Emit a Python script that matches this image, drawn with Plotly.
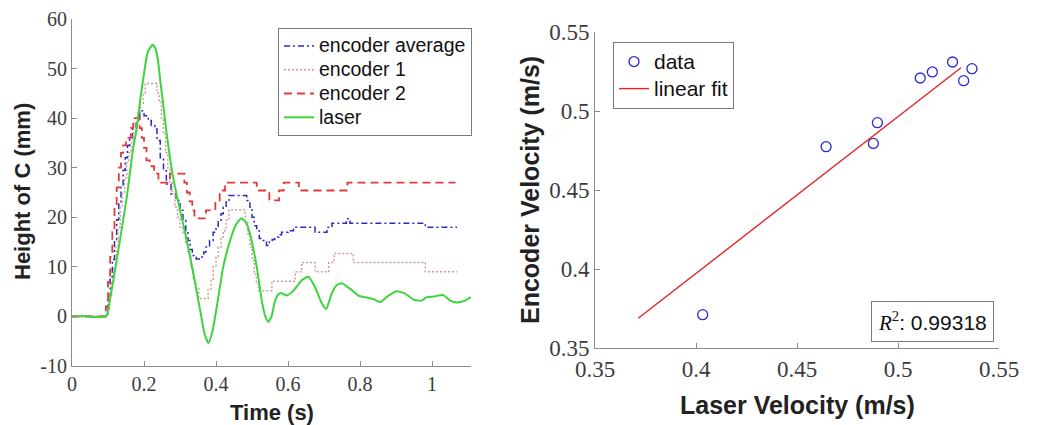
import plotly.graph_objects as go

# ---------------- left panel data ----------------
t_laser = [0, 0.03, 0.06, 0.09, 0.097, 0.105, 0.124, 0.152, 0.170, 0.180, 0.189, 0.198, 0.207, 0.212,
           0.224, 0.232, 0.239, 0.246, 0.253, 0.263, 0.281, 0.300, 0.319, 0.337, 0.356, 0.368, 0.379,
           0.390, 0.402, 0.420, 0.439, 0.455, 0.471, 0.484, 0.494, 0.513, 0.527, 0.537, 0.545, 0.554,
           0.564, 0.574, 0.582, 0.596, 0.615, 0.638, 0.656, 0.675, 0.694, 0.706, 0.721, 0.735, 0.749,
           0.772, 0.795, 0.819, 0.837, 0.856, 0.879, 0.902, 0.925, 0.948, 0.971, 0.985, 1.004, 1.031,
           1.050, 1.069, 1.092, 1.107]
y_laser = [0, 0.1, -0.1, 0, 0.2, 3.2, 11.3, 24, 34, 38, 43.5, 48, 52.3, 53.6,
           54.8, 54, 51.5, 47, 43, 36.8, 28, 21.4, 15.3, 8.6, 1.2, -3.5, -5.4,
           -3, 1.9, 10, 15.3, 18.5, 19.8, 18.8, 16.7, 10, 3.2, 0, -1.1, 0,
           3.2, 4.5, 4.7, 4.2, 5.2, 7.3, 8, 5.9, 2.6, 1.5, 4.6, 6.3, 6.7,
           5.6, 4.2, 3.8, 3.5, 2.9, 4.2, 5.1, 4.6, 3.4, 3.2, 3.9, 4.0, 4.3,
           3.2, 2.8, 3.2, 3.9]

t_enc2 = [0, 0.094, 0.100, 0.106, 0.112, 0.118, 0.124, 0.130, 0.136, 0.142, 0.150, 0.163, 0.170,
          0.188, 0.194, 0.200, 0.207, 0.216, 0.228, 0.240, 0.272, 0.312, 0.319, 0.327, 0.334, 0.340,
          0.372, 0.398, 0.410, 0.425, 0.513, 0.548, 0.575, 0.588, 0.630, 0.765, 1.065]
y_enc2 = [0, 2, 7, 12, 17, 22, 26, 30, 33, 34.5, 36, 38, 40,
          38, 36, 34, 31.5, 30.3, 28.8, 27, 28.8, 27, 25, 23.2, 21.4, 19.8,
          21.4, 23.4, 25.4, 27, 25.4, 23.4, 25.4, 27, 25.4, 27, 27]

t_enc1 = [0, 0.098, 0.104, 0.110, 0.116, 0.122, 0.128, 0.134, 0.140, 0.146, 0.152, 0.158, 0.164,
          0.170, 0.176, 0.182, 0.190, 0.198, 0.203, 0.236, 0.242, 0.248, 0.254, 0.260, 0.266, 0.272,
          0.278, 0.286, 0.293, 0.300, 0.308, 0.315, 0.322, 0.330, 0.337, 0.344, 0.352, 0.378, 0.386,
          0.392, 0.400, 0.406, 0.414, 0.420, 0.428, 0.436, 0.481, 0.488, 0.494, 0.500, 0.506, 0.512,
          0.518, 0.555, 0.620, 0.638, 0.675, 0.713, 0.728, 0.781, 0.981, 1.069]
y_enc1 = [0, 1, 4, 7, 10, 14, 18, 22, 25, 28, 31, 33, 35,
          37, 39, 41, 43, 45, 47, 45, 43.5, 40, 36.8, 33, 30, 27,
          24.7, 22, 20, 18, 16.7, 14.5, 12.6, 9.9, 7.3, 5.9, 3.6, 5.5, 7.5,
          10, 12, 14, 16, 17.3, 19.4, 21.5, 19, 16.7, 14, 11.3, 8.5, 6.6,
          5.2, 7.1, 9.0, 10.9, 9.0, 10.9, 12.7, 10.9, 9.0, 9.0]

t_avg = [0, 0.093, 0.100, 0.106, 0.112, 0.118, 0.124, 0.130, 0.136, 0.142, 0.148, 0.154, 0.160,
         0.168, 0.178, 0.188, 0.200, 0.212, 0.220, 0.230, 0.236, 0.245, 0.254, 0.262, 0.275, 0.289,
         0.300, 0.308, 0.316, 0.322, 0.328, 0.334, 0.345, 0.357, 0.366, 0.372, 0.382, 0.392, 0.400,
         0.406, 0.414, 0.420, 0.428, 0.436, 0.485, 0.494, 0.500, 0.506, 0.513, 0.520, 0.528, 0.540,
         0.548, 0.556, 0.563, 0.575, 0.582, 0.600, 0.615, 0.650, 0.675, 0.700, 0.708, 0.722, 0.762,
         0.772, 0.981, 1.069]
y_avg = [0, 0.5, 4, 8, 11.5, 15.5, 19.5, 23, 26.5, 29.5, 32, 34.5, 36,
         38, 39.5, 41.5, 40.5, 39.5, 38.5, 37.8, 35.5, 32, 29.4, 26.7, 24.7, 23.4,
         21.4, 19.4, 17.3, 15.3, 13.5, 12.3, 11.6, 12, 13, 14, 15.3, 17, 18,
         19.4, 20.7, 22, 23.4, 24.4, 23.4, 22, 20, 18.3, 17.3, 15.7, 15.3, 14.3,
         15, 15.5, 16, 16.5, 17, 17.3, 18, 18, 17, 17, 18, 18.8, 19.7,
         18.8, 18, 18]

left_xticks = [0, 0.2, 0.4, 0.6, 0.8, 1]
left_xticklabels = ["0", "0.2", "0.4", "0.6", "0.8", "1"]
left_yticks = [-10, 0, 10, 20, 30, 40, 50, 60]
left_yticklabels = ["-10", "0", "10", "20", "30", "40", "50", "60"]
left_names = ["encoder average", "encoder 1", "encoder 2", "laser"]

# ---------------- right panel data ----------------
laser_vel = [0.4033, 0.4644, 0.4878, 0.4898, 0.5110, 0.5170, 0.5270, 0.5325, 0.5366]
encoder_vel = [0.3711, 0.4774, 0.4795, 0.4926, 0.5209, 0.5247, 0.5310, 0.5192, 0.5268]
fit_x = [0.3714, 0.5312]
fit_y = [0.3688, 0.5274]
r2_value = "0.99318"
right_ticks = [0.35, 0.4, 0.45, 0.5, 0.55]
right_ticklabels = ["0.35", "0.4", "0.45", "0.5", "0.55"]
right_names = ["data", "linear fit"]

# page body has an 8px margin: figure is drawn at (8, 8) in the window
OFF = 8
W, H = 1039 - OFF, 425 - OFF


def fx(px):
    return (px - OFF) / W


def fy(py):
    return 1 - (py - OFF) / H


SERIF = "Liberation Serif"
SANS = "Liberation Sans"
AXIS_GRAY = "#8a8a8a"
TICK_TXT = "#3c3c3c"


def lname(s, size):
    return '<span style="font-size:%spx">%s</span>' % (size, s)


fig = go.Figure()

fig.add_trace(go.Scatter(x=t_avg, y=y_avg, mode="lines", name=lname(left_names[0], 19.5),
                         line=dict(color="#2b2bc4", width=1.5, dash="6px,3px,2px,3px", shape="hv"),
                         xaxis="x", yaxis="y", legend="legend"))
fig.add_trace(go.Scatter(x=t_enc1, y=y_enc1, mode="lines", name=lname(left_names[1], 19.5),
                         line=dict(color="#d49a9a", width=1.5, dash="2px,2px", shape="hv"),
                         xaxis="x", yaxis="y", legend="legend"))
fig.add_trace(go.Scatter(x=t_enc2, y=y_enc2, mode="lines", name=lname(left_names[2], 19.5),
                         line=dict(color="#e03a3a", width=1.8, dash="8px,5px", shape="hv"),
                         xaxis="x", yaxis="y", legend="legend"))
fig.add_trace(go.Scatter(x=t_laser, y=y_laser, mode="lines", name=lname(left_names[3], 19.5),
                         line=dict(color="#3dd43d", width=2, shape="spline", smoothing=0.5),
                         xaxis="x", yaxis="y", legend="legend"))

fig.add_trace(go.Scatter(x=laser_vel, y=encoder_vel, mode="markers", name=lname(right_names[0], 21),
                         marker=dict(symbol="circle-open", size=10, color="#2a2ad4",
                                     line=dict(width=1.3, color="#2a2ad4")),
                         xaxis="x2", yaxis="y2", legend="legend2"))
fig.add_trace(go.Scatter(x=fit_x, y=fit_y, mode="lines", name=lname(right_names[1], 21),
                         line=dict(color="#e02424", width=1.4),
                         xaxis="x2", yaxis="y2", legend="legend2"))

axis_common = dict(showgrid=False, zeroline=False, showline=True, linecolor=AXIS_GRAY, linewidth=1,
                   ticks="inside", ticklen=5, tickcolor=AXIS_GRAY, mirror=False, automargin=False)

fig.update_layout(
    width=W, height=H,
    margin=dict(l=0, r=0, t=0, b=0, autoexpand=False),
    paper_bgcolor="white", plot_bgcolor="white",
    xaxis=dict(domain=[fx(72), fx(471)], range=[0, 1.108], anchor="y",
               tickvals=left_xticks, ticktext=left_xticklabels,
               tickfont=dict(family=SERIF, size=20, color=TICK_TXT), **axis_common),
    yaxis=dict(domain=[fy(366), fy(19)], range=[-10, 60], anchor="x",
               tickvals=left_yticks, ticktext=left_yticklabels,
               tickfont=dict(family=SERIF, size=20, color=TICK_TXT), **axis_common),
    xaxis2=dict(domain=[fx(595), fx(999)], range=[0.35, 0.55], anchor="y2",
                tickvals=right_ticks, ticktext=right_ticklabels,
                tickfont=dict(family=SERIF, size=23, color=TICK_TXT), **axis_common),
    yaxis2=dict(domain=[fy(348), fy(32)], range=[0.35, 0.55], anchor="x2",
                tickvals=right_ticks, ticktext=right_ticklabels,
                tickfont=dict(family=SERIF, size=23, color=TICK_TXT), **axis_common),
    legend=dict(x=fx(278), y=fy(28), xanchor="left", yanchor="top",
                bgcolor="white", bordercolor="#7a7a7a", borderwidth=1,
                font=dict(family=SANS, size=16, color="#111"), tracegroupgap=0,
                itemwidth=30),
    legend2=dict(x=fx(613), y=fy(42), xanchor="left", yanchor="top",
                 bgcolor="white", bordercolor="#7a7a7a", borderwidth=1,
                 font=dict(family=SANS, size=18.5, color="#111"), itemwidth=30),
    showlegend=True,
)

annos = [
    dict(text="<b>Height of C (mm)</b>", x=fx(23), y=fy(192), textangle=-90,
         font=dict(family=SANS, size=22, color="#222")),
    dict(text="<b>Time (s)</b>", x=fx(272), y=fy(412),
         font=dict(family=SANS, size=22, color="#222")),
    dict(text="<b>Encoder Velocity (m/s)</b>", x=fx(530), y=fy(190), textangle=-90,
         font=dict(family=SANS, size=25, color="#222")),
    dict(text="<b>Laser Velocity (m/s)</b>", x=fx(797), y=fy(405),
         font=dict(family=SANS, size=25, color="#222")),
    dict(text='<span style="font-family:Liberation Serif"><i>R</i><sup>2</sup></span>: ' + r2_value,
         x=fx(994), y=fy(342), xanchor="right", yanchor="bottom",
         bordercolor="#7a7a7a", borderwidth=1, borderpad=6, bgcolor="white",
         font=dict(family=SANS, size=21, color="#111")),
]
for a in annos:
    a.setdefault("xanchor", "center")
    a.setdefault("yanchor", "middle")
    fig.add_annotation(xref="paper", yref="paper", showarrow=False, **a)

fig.write_html("out.html")
